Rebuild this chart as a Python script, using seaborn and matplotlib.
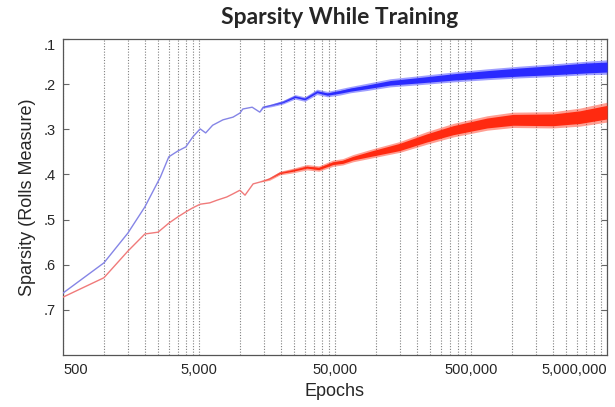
import numpy as np
import pandas as pd
import matplotlib
matplotlib.use("Agg")
import matplotlib.pyplot as plt
import matplotlib.ticker as mticker
import seaborn as sns


# values

blue_epochs = [500, 1000, 1500, 2000, 2600, 3000, 3500, 4000, 4500, 5100, 5600, 6300,
               7500, 8900, 10000, 10500, 12300, 14000, 14800, 17000, 20700, 25400, 30000,
               36900, 44000, 54400, 65000, 85900, 127000, 211000, 369000, 656000,
               1146000, 2004000, 3565000, 5000000]
blue_sparsity = [0.663, 0.596, 0.530, 0.472, 0.406, 0.361, 0.348, 0.339, 0.317, 0.299,
                 0.308, 0.291, 0.279, 0.273, 0.264, 0.255, 0.251, 0.262, 0.251, 0.247,
                 0.240, 0.228, 0.233, 0.217, 0.222, 0.217, 0.212, 0.206, 0.197, 0.191,
                 0.184, 0.178, 0.173, 0.169, 0.164, 0.162]
# half width of the dense noisy core, and of the sparse outliers around it
blue_spread = [0, 0, 0, 0, 0, 0, 0, 0, 0, 0, 0, 0, 0, 0, 0, 0, 0, 0, 0, 0, 0.001,
               0.0015, 0.0015, 0.002, 0.0025, 0.003, 0.0035, 0.004, 0.005, 0.006, 0.007,
               0.008, 0.009, 0.010, 0.011, 0.011]
blue_outer = [0, 0, 0, 0, 0, 0, 0, 0, 0, 0, 0, 0, 0, 0, 0, 0, 0, 0, 0.002, 0.003, 0.004,
              0.005, 0.005, 0.006, 0.006, 0.007, 0.007, 0.008, 0.009, 0.010, 0.011, 0.012,
              0.013, 0.014, 0.015, 0.016]

red_epochs = [500, 1000, 1500, 2000, 2500, 3000, 3500, 4000, 4500, 5100, 6000, 6800,
              8000, 8900, 10000, 10900, 12500, 14000, 16500, 19700, 24000, 31100, 38000,
              48400, 57000, 67800, 95100, 150000, 237000, 369000, 656000, 1018000,
              2004000, 3162000, 5000000]
red_sparsity = [0.672, 0.629, 0.570, 0.532, 0.528, 0.508, 0.494, 0.483, 0.474, 0.466,
                0.463, 0.457, 0.450, 0.443, 0.435, 0.446, 0.421, 0.417, 0.410, 0.397,
                0.392, 0.384, 0.387, 0.375, 0.372, 0.364, 0.353, 0.339, 0.319, 0.302,
                0.286, 0.279, 0.279, 0.273, 0.262]
red_spread = [0, 0, 0, 0, 0, 0, 0, 0, 0, 0, 0, 0, 0, 0, 0, 0, 0, 0, 0, 0.001, 0.0015,
              0.002, 0.0025, 0.003, 0.0035, 0.004, 0.006, 0.008, 0.009, 0.010, 0.011,
              0.012, 0.013, 0.014, 0.015]
red_outer = [0, 0, 0, 0, 0, 0, 0, 0, 0, 0, 0, 0, 0, 0, 0, 0, 0, 0, 0.003, 0.004, 0.005,
             0.006, 0.006, 0.007, 0.007, 0.008, 0.010, 0.012, 0.014, 0.015, 0.016, 0.017,
             0.018, 0.020, 0.022]

x_major = [500, 5000, 50000, 500000, 5000000]
x_labels = ["500", "5,000", "50,000", "500,000", "5,000,000"]
y_ticks = [0.1, 0.2, 0.3, 0.4, 0.5, 0.6, 0.7]
y_labels = [".1", ".2", ".3", ".4", ".5", ".6", ".7"]


sns.set_style("white")
plt.rcParams["font.family"] = ["Liberation Sans", "DejaVu Sans"]

fig = plt.figure(figsize=(6.15, 4.07), dpi=100)
ax = fig.add_axes([0.1024, 0.128, 0.8846, 0.776])

blue = pd.DataFrame({"epochs": blue_epochs, "sparsity": blue_sparsity,
                     "spread": blue_spread, "outer": blue_outer})
red = pd.DataFrame({"epochs": red_epochs, "sparsity": red_sparsity,
                    "spread": red_spread, "outer": red_outer})

# thin early curves
sns.lineplot(data=blue, x="epochs", y="sparsity", color="#8585e6", lw=1.0, ax=ax, zorder=3)
sns.lineplot(data=red, x="epochs", y="sparsity", color="#f07a7a", lw=1.0, ax=ax, zorder=3)

# noisy bands later in training
for df, col in [(blue, "#2a2aff"), (red, "#ff2a10")]:
    ax.fill_between(df.epochs, df.sparsity - df.outer, df.sparsity + df.outer,
                    color=col, alpha=0.45, lw=0, zorder=4)
    ax.fill_between(df.epochs, df.sparsity - df.spread, df.sparsity + df.spread,
                    color=col, lw=0, zorder=5)

ax.set_xscale("log")
ax.set_xlim(500, 5000000)
ax.set_ylim(0.8, 0.1)

minor = [d * k for d in x_major[:-1] for k in range(2, 10)]
ax.xaxis.set_major_locator(mticker.FixedLocator(x_major))
ax.xaxis.set_minor_locator(mticker.FixedLocator(minor))
ax.xaxis.set_major_formatter(mticker.FixedFormatter(x_labels))
ax.xaxis.set_minor_formatter(mticker.NullFormatter())
ax.grid(True, which="both", axis="x", color="#808080", ls=(0, (1, 1.5)), lw=0.8)
ax.grid(False, axis="y")

ax.set_yticks(y_ticks)
ax.set_yticklabels(y_labels)

ax.tick_params(axis="x", which="both", length=0, labelsize=10.5, pad=6)
ax.tick_params(axis="y", direction="in", length=4, width=0.8, color="#666666",
               left=True, right=True, labelsize=10.5, pad=5)

xl = ax.get_xticklabels()
xl[0].set_horizontalalignment("left")
xl[-1].set_horizontalalignment("right")
ax.get_yticklabels()[0].set_verticalalignment("top")

for s in ax.spines.values():
    s.set_color("#555555")
    s.set_linewidth(0.9)

ax.set_xlabel("Epochs", fontsize=13, labelpad=4)
ax.set_ylabel("Sparsity (Rolls Measure)", fontsize=13, labelpad=6)
fig.text(0.553, 0.958, "Sparsity While Training", fontsize=16.5, fontweight="bold",
         family="Lato", ha="center", va="center")

fig.savefig("out.png", dpi=100)
